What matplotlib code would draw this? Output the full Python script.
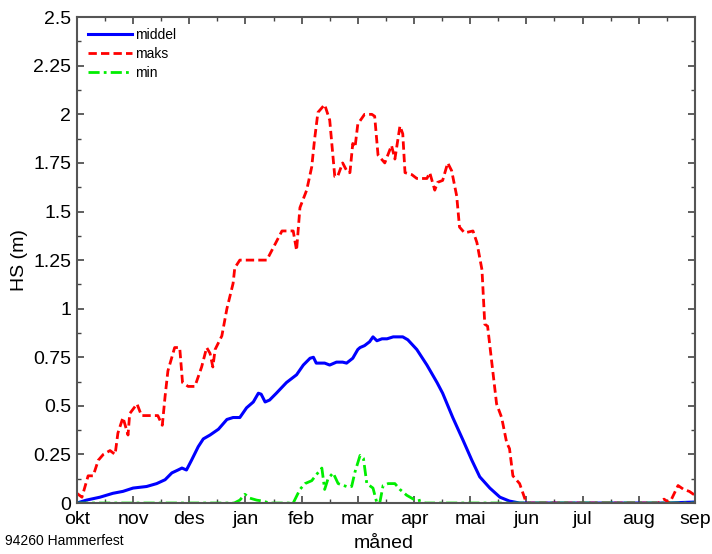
import matplotlib.pyplot as plt
from matplotlib.ticker import MultipleLocator

plt.rcParams['font.family'] = ['Liberation Sans', 'DejaVu Sans']

months = ["okt", "nov", "des", "jan", "feb", "mar", "apr", "mai", "jun", "jul", "aug", "sep"]

# x in months after 1 Oct, y = snow depth in m
maks_x = [0, 0.09, 0.2, 0.29, 0.38, 0.47, 0.59, 0.68, 0.73, 0.82, 0.91, 0.94, 1.07, 1.15,
          1.44, 1.52, 1.57, 1.62, 1.74, 1.83, 1.88, 1.98, 2.1, 2.22, 2.31, 2.37, 2.42, 2.46,
          2.58, 2.67, 2.78, 2.81, 2.9, 3.38, 3.56, 3.65, 3.85, 3.91, 3.97, 4.09, 4.18, 4.23,
          4.29, 4.41, 4.5, 4.59, 4.64, 4.73, 4.82, 4.86, 4.91, 4.95, 5.0, 5.12, 5.25, 5.3,
          5.36, 5.48, 5.6, 5.66, 5.75, 5.8, 5.84, 5.96, 6.05, 6.23, 6.28, 6.37, 6.42, 6.51,
          6.6, 6.67, 6.76, 6.81, 6.9, 7.05, 7.12, 7.21, 7.26, 7.31, 7.47, 7.56, 7.65, 7.7,
          7.76, 7.88, 7.94, 8.0, 10.35, 10.45, 10.55, 10.7, 10.8, 10.9, 11.0]
maks_y = [0.05, 0.03, 0.14, 0.14, 0.22, 0.25, 0.27, 0.25, 0.36, 0.44, 0.35, 0.46, 0.51, 0.45,
          0.45, 0.40, 0.55, 0.68, 0.80, 0.80, 0.62, 0.60, 0.60, 0.70, 0.80, 0.77, 0.70, 0.79,
          0.86, 1.0, 1.13, 1.21, 1.25, 1.25, 1.35, 1.40, 1.40, 1.30, 1.52, 1.61, 1.73, 1.87,
          2.01, 2.05, 1.97, 1.68, 1.68, 1.75, 1.70, 1.70, 1.85, 1.83, 1.95, 2.0, 2.0, 1.99,
          1.79, 1.75, 1.84, 1.77, 1.94, 1.90, 1.70, 1.69, 1.67, 1.67, 1.70, 1.61, 1.65, 1.66,
          1.75, 1.71, 1.58, 1.42, 1.39, 1.40, 1.34, 1.20, 0.92, 0.91, 0.51, 0.44, 0.31, 0.28,
          0.14, 0.10, 0.05, 0.0, 0.0, 0.02, 0.0, 0.09, 0.07, 0.06, 0.04]

middel_x = [0, 0.17, 0.41, 0.64, 0.82, 1.0, 1.24, 1.42, 1.57, 1.69, 1.8, 1.87, 1.95, 2.04,
            2.16, 2.25, 2.37, 2.52, 2.67, 2.78, 2.9, 3.02, 3.14, 3.23, 3.28, 3.35, 3.43, 3.55,
            3.73, 3.91, 4.03, 4.15, 4.21, 4.26, 4.41, 4.5, 4.62, 4.73, 4.8, 4.91, 5.0, 5.04,
            5.12, 5.21, 5.27, 5.34, 5.43, 5.52, 5.63, 5.8, 5.89, 6.05, 6.23, 6.41, 6.51, 6.69,
            6.87, 7.03, 7.17, 7.35, 7.53, 7.7, 7.88, 10.5, 11.0]
middel_y = [0.0, 0.015, 0.03, 0.05, 0.06, 0.077, 0.085, 0.10, 0.12, 0.155, 0.17, 0.18, 0.17,
            0.22, 0.29, 0.33, 0.35, 0.38, 0.43, 0.44, 0.44, 0.49, 0.52, 0.565, 0.56, 0.52, 0.53,
            0.565, 0.62, 0.66, 0.71, 0.745, 0.75, 0.72, 0.72, 0.71, 0.725, 0.725, 0.72, 0.745,
            0.79, 0.80, 0.81, 0.83, 0.855, 0.835, 0.845, 0.845, 0.855, 0.855, 0.84, 0.79, 0.71,
            0.62, 0.565, 0.44, 0.325, 0.22, 0.135, 0.077, 0.03, 0.01, 0.0, 0.0, 0.005]

min_x = [0, 2.8, 2.9, 2.99, 3.08, 3.2, 3.31, 3.43, 3.85, 3.97, 4.06, 4.18, 4.26, 4.36, 4.41,
         4.47, 4.56, 4.65, 4.8, 4.89, 4.95, 5.04, 5.1, 5.16, 5.27, 5.34, 5.39, 5.45, 5.54,
         5.66, 5.75, 5.87, 5.96, 6.05, 6.12, 6.19, 11.0]
min_y = [0.0, 0.0, 0.015, 0.045, 0.025, 0.015, 0.01, 0.0, 0.0, 0.07, 0.10, 0.115, 0.145, 0.18,
         0.07, 0.125, 0.155, 0.10, 0.085, 0.085, 0.16, 0.245, 0.23, 0.10, 0.077, 0.0, 0.0,
         0.09, 0.10, 0.10, 0.07, 0.04, 0.025, 0.01, 0.015, 0.0, 0.0]

fig = plt.figure(figsize=(7.12, 5.54), dpi=100)
ax = fig.add_axes([0.108, 0.092, 0.868, 0.877])

ax.plot(middel_x, middel_y, color='#0000ff', lw=2.2, label="middel")
ax.plot(maks_x, maks_y, color='#ff0000', lw=2, ls=(0, (3, 1.5)), label="maks")
ax.plot(min_x, min_y, color='#00ee00', lw=2, ls=(0, (4, 1.5, 1, 1.5)), label="min")

ax.set_xlim(0, 11)
ax.set_ylim(0, 2.5)
ax.set_xticks(range(12))
ax.set_xticklabels(months)
ax.xaxis.set_minor_locator(MultipleLocator(0.5))
ax.set_yticks([0, 0.25, 0.5, 0.75, 1, 1.25, 1.5, 1.75, 2, 2.25, 2.5])
ax.set_yticklabels(["0", "0.25", "0.5", "0.75", "1", "1.25", "1.5", "1.75", "2", "2.25", "2.5"])
ax.yaxis.set_minor_locator(MultipleLocator(0.125))
ax.tick_params(which='both', direction='in', top=True, right=True, labelsize=14,
               color='#444444')
ax.tick_params(which='major', length=5, width=1.2)
ax.tick_params(which='minor', length=3, width=1)
ax.tick_params(axis='x', pad=6)
ax.tick_params(axis='y', pad=4)
for s in ax.spines.values():
    s.set_color('#555555')
    s.set_linewidth(1.5)

ax.set_ylabel("HS (m)", fontsize=14, labelpad=4)
fig.text(0.539, 0.0108, "måned", fontsize=14, ha='center', va='baseline')
fig.text(0.007, 0.0162, "94260 Hammerfest", fontsize=10, va='baseline')

ax.legend(loc='upper left', frameon=False, fontsize=10, handlelength=3.2,
          handletextpad=0.2, labelspacing=0.35, borderaxespad=0.4)

fig.savefig("out.png", dpi=100)
